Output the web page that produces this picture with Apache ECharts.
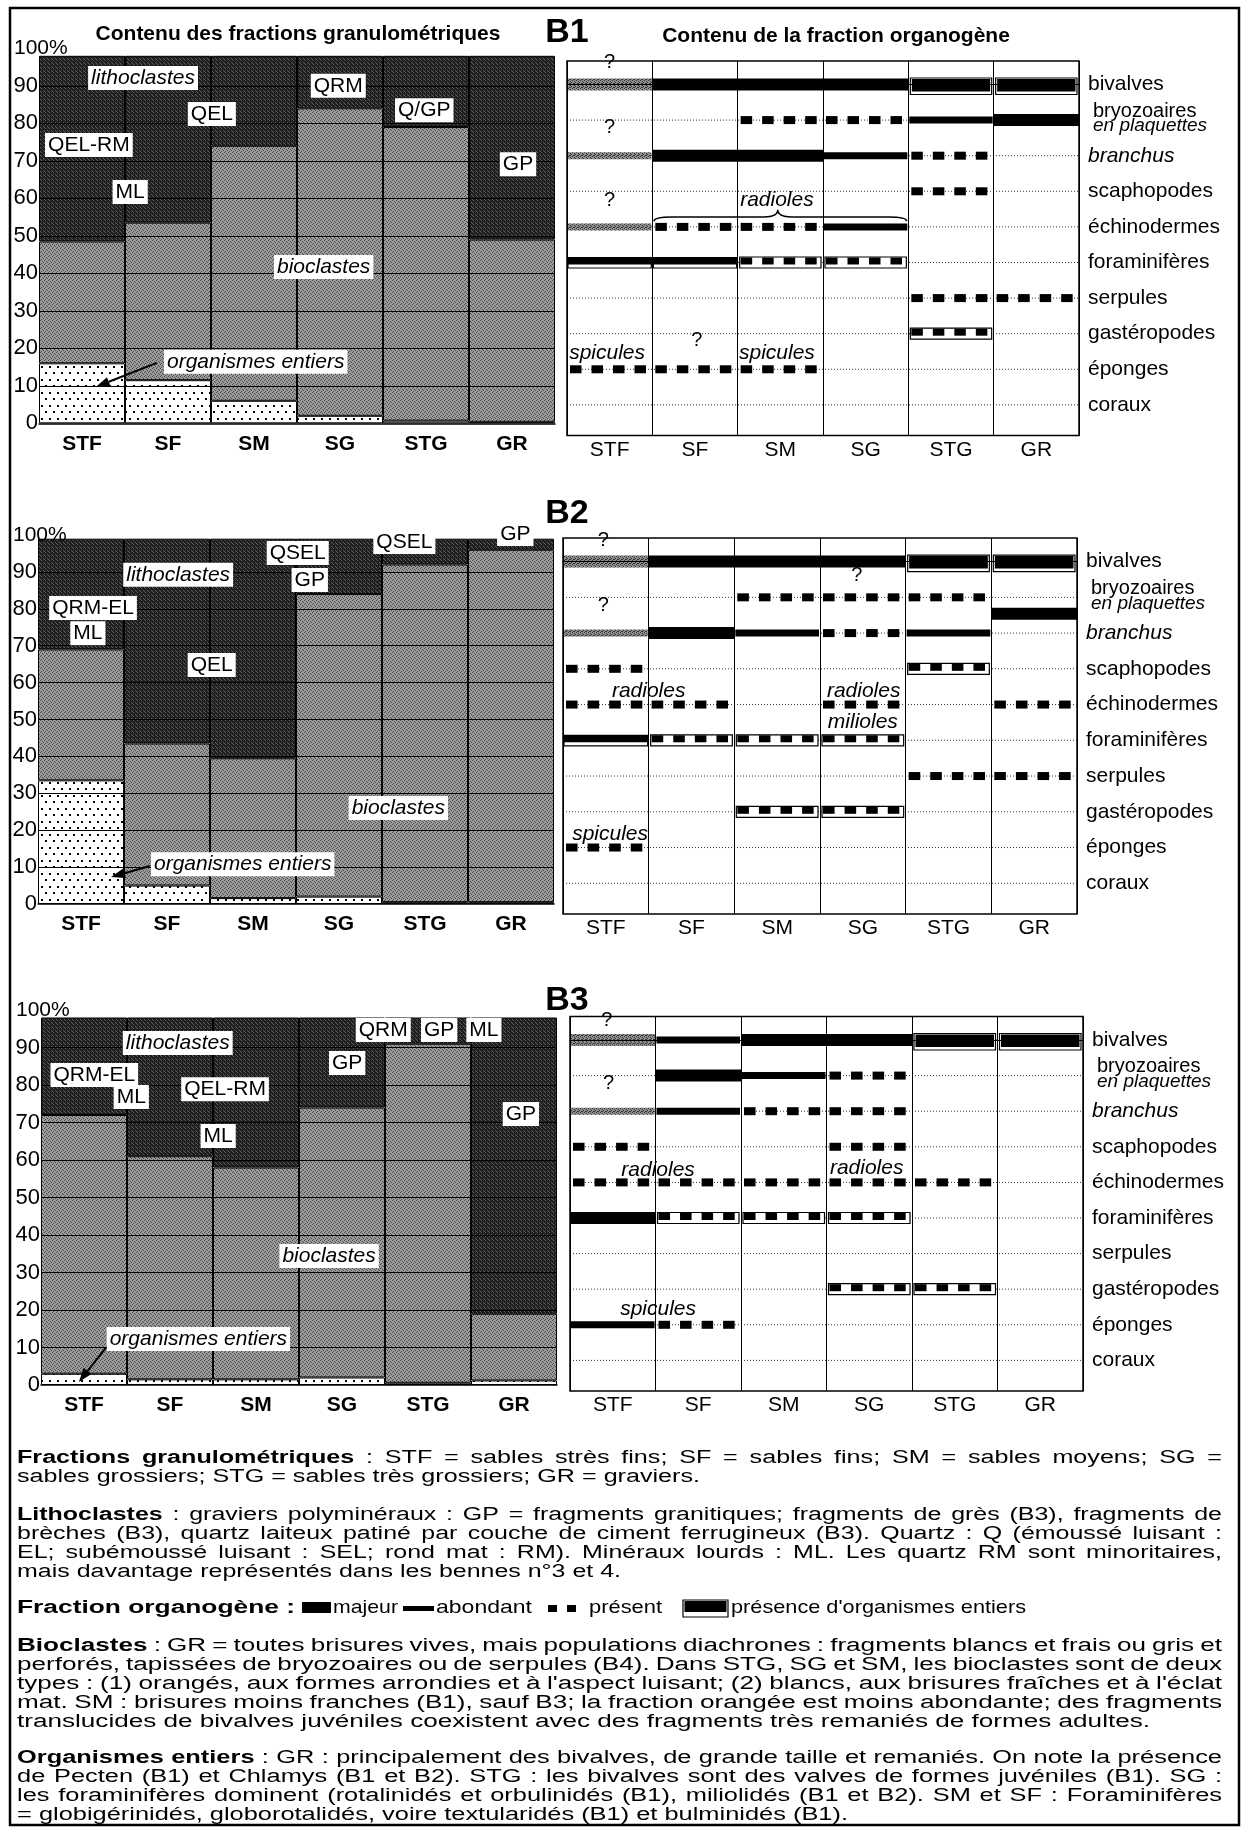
<!DOCTYPE html>
<html>
<head>
<meta charset="utf-8">
<title>Contenu des fractions granulométriques et de la fraction organogène</title>
<script src="https://cdn.jsdelivr.net/npm/echarts@6.0.0/dist/echarts.min.js"></script>
<style>
html,body{margin:0;padding:0;background:#fff;}
#chart{width:1248px;height:1828px;}
</style>
</head>
<body>
<div id="chart"></div>
<script>
// ======================= DATA =======================
const categories = ['STF', 'SF', 'SM', 'SG', 'STG', 'GR'];
const percentTicks = [0, 10, 20, 30, 40, 50, 60, 70, 80, 90];
const organoRows = ['bivalves', 'bryozoaires', 'branchus', 'scaphopodes', 'échinodermes',
  'foraminifères', 'serpules', 'gastéropodes', 'éponges', 'coraux'];

// Contenu des fractions granulométriques (% par classe)
const b1Organismes   = [16, 11.5, 6, 2, 0.7, 0.4];
const b1Bioclastes   = [32.5, 42, 68, 82, 78.3, 48.6];
const b1Lithoclastes = [49.5, 44.5, 24, 14, 19, 49];

const b2Organismes   = [33.5, 5, 1.6, 2, 0.5, 0.5];
const b2Bioclastes   = [35.5, 38.5, 37.9, 82, 91.5, 95.5];
const b2Lithoclastes = [30, 55.5, 59.5, 15, 7, 3];

const b3Organismes   = [3, 1.5, 1.5, 2, 0.6, 1.2];
const b3Bioclastes   = [69, 59.5, 56.5, 72, 90.4, 17.8];
const b3Lithoclastes = [26, 37, 40, 24, 7, 79];

// Contenu de la fraction organogène : [fraction, groupe, niveau]
const b1Organo = [
  ['STF','bivalves','incertain'], ['SF','bivalves','majeur'], ['SM','bivalves','majeur'], ['SG','bivalves','majeur'], ['STG','bivalves','entiers-majeur'], ['GR','bivalves','entiers-majeur'],
  ['SM','bryozoaires','présent'], ['SG','bryozoaires','présent'], ['STG','bryozoaires','abondant'], ['GR','bryozoaires','majeur'],
  ['STF','branchus','incertain-faible'], ['SF','branchus','majeur'], ['SM','branchus','majeur'], ['SG','branchus','abondant'], ['STG','branchus','présent'],
  ['STG','scaphopodes','présent'],
  ['STF','échinodermes','incertain-faible'], ['SF','échinodermes','présent'], ['SM','échinodermes','présent'], ['SG','échinodermes','abondant'],
  ['STF','foraminifères','entiers-abondant'], ['SF','foraminifères','entiers-abondant'], ['SM','foraminifères','entiers-présent'], ['SG','foraminifères','entiers-présent'],
  ['STG','serpules','présent'], ['GR','serpules','présent'],
  ['STG','gastéropodes','entiers-présent'],
  ['STF','éponges','présent'], ['SF','éponges','présent'], ['SM','éponges','présent']
];
const b2Organo = [
  ['STF','bivalves','incertain'], ['SF','bivalves','majeur'], ['SM','bivalves','majeur'], ['SG','bivalves','majeur'], ['STG','bivalves','entiers-majeur'], ['GR','bivalves','entiers-majeur'],
  ['SM','bryozoaires','présent'], ['SG','bryozoaires','présent'], ['STG','bryozoaires','présent'], ['GR','bryozoaires','majeur'],
  ['STF','branchus','incertain-faible'], ['SF','branchus','majeur'], ['SM','branchus','abondant'], ['SG','branchus','présent'], ['STG','branchus','abondant'],
  ['STF','scaphopodes','présent'], ['STG','scaphopodes','entiers-présent'],
  ['STF','échinodermes','présent'], ['SF','échinodermes','présent'], ['SG','échinodermes','présent'], ['GR','échinodermes','présent'],
  ['STF','foraminifères','entiers-abondant'], ['SF','foraminifères','entiers-présent'], ['SM','foraminifères','entiers-présent'], ['SG','foraminifères','entiers-présent'],
  ['STG','serpules','présent'], ['GR','serpules','présent'],
  ['SM','gastéropodes','entiers-présent'], ['SG','gastéropodes','entiers-présent'],
  ['STF','éponges','présent']
];
const b3Organo = [
  ['STF','bivalves','incertain'], ['SF','bivalves','abondant'], ['SM','bivalves','majeur'], ['SG','bivalves','majeur'], ['STG','bivalves','entiers-majeur'], ['GR','bivalves','entiers-majeur'],
  ['SF','bryozoaires','majeur'], ['SM','bryozoaires','abondant'], ['SG','bryozoaires','présent'],
  ['STF','branchus','incertain-faible'], ['SF','branchus','abondant'], ['SM','branchus','présent'], ['SG','branchus','présent'],
  ['STF','scaphopodes','présent'], ['SG','scaphopodes','présent'],
  ['STF','échinodermes','présent'], ['SF','échinodermes','présent'], ['SM','échinodermes','présent'], ['SG','échinodermes','présent'], ['STG','échinodermes','présent'],
  ['STF','foraminifères','majeur'], ['SF','foraminifères','entiers-présent'], ['SM','foraminifères','entiers-présent'], ['SG','foraminifères','entiers-présent'],
  ['SG','gastéropodes','entiers-présent'], ['STG','gastéropodes','entiers-présent'],
  ['STF','éponges','abondant'], ['SF','éponges','présent']
];

// Texte de légende
const captionParagraphs = [
  { bold: 'Fractions granulométriques', lines: [
    ' :  STF = sables strès fins; SF = sables fins; SM = sables moyens; SG =',
    'sables grossiers; STG = sables très grossiers; GR = graviers.'] },
  { bold: 'Lithoclastes', lines: [
    ' : graviers polyminéraux : GP = fragments granitiques;  fragments de grès (B3), fragments de',
    'brèches (B3), quartz laiteux patiné par couche de ciment ferrugineux (B3). Quartz : Q (émoussé luisant :',
    'EL; subémoussé luisant : SEL; rond mat : RM). Minéraux lourds : ML. Les quartz RM sont minoritaires,',
    'mais davantage représentés dans les bennes n°3 et 4.'] },
  { bold: 'Bioclastes', lines: [
    ' : GR = toutes brisures vives, mais populations diachrones : fragments blancs et frais ou gris et',
    'perforés, tapissées de bryozoaires ou de serpules (B4). Dans STG, SG et SM, les bioclastes sont de deux',
    "types : (1) orangés, aux formes arrondies et à l'aspect luisant; (2) blancs, aux brisures fraîches et à l'éclat",
    'mat. SM : brisures moins franches (B1), sauf B3; la fraction orangée est moins abondante; des fragments',
    'translucides de bivalves juvéniles coexistent avec des fragments très remaniés de formes adultes.'] },
  { bold: 'Organismes entiers', lines: [
    ' : GR : principalement des bivalves, de grande taille et remaniés. On note la présence',
    'de Pecten (B1) et Chlamys (B1 et B2). STG : les bivalves sont des valves de formes juvéniles (B1). SG :',
    'les foraminifères dominent (rotalinidés et orbulinidés (B1), miliolidés (B1 et B2). SM et SF : Foraminifères',
    '= globigérinidés, globorotalidés, voire textularidés (B1) et bulminidés (B1).'] }
];

// ======================= STYLE / LAYOUT =======================
const FONT = '"Liberation Sans", Arial, Helvetica, sans-serif';

function makePattern(w, h, base, dots, dotColor) {
  const c = document.createElement('canvas');
  c.width = w; c.height = h;
  const g = c.getContext('2d');
  g.fillStyle = base; g.fillRect(0, 0, w, h);
  g.fillStyle = dotColor;
  dots.forEach(d => g.fillRect(d[0], d[1], d[2] || 1, d[2] || 1));
  return { image: c, repeat: 'repeat' };
}
const bioFill   = makePattern(4, 4, '#9c9c9c', [[0,0],[2,1],[1,3],[3,2]], '#4a4a4a');
const lithoFill = makePattern(4, 4, '#202020', [[1,0],[3,2],[0,3]], '#5e5e5e');
const orgFill   = makePattern(16, 13, '#ffffff', [[1,2,2],[9,2,2],[5,8,2],[13,8,2]], '#000000');
const grayMark  = makePattern(4, 4, '#8e8e8e', [[0,0],[2,1],[1,3],[3,2],[2,3]], '#333333');

const leftNotes = {
  B1: [
    {t:'lithoclastes', x:1.21, v:92.1, it:true}, {t:'QRM', x:3.48, v:90}, {t:'QEL', x:2.01, v:82.5},
    {t:'Q/GP', x:4.48, v:83.5}, {t:'QEL-RM', x:0.58, v:74.2}, {t:'GP', x:5.57, v:69.1},
    {t:'ML', x:1.06, v:61.7}, {t:'bioclastes', x:3.31, v:41.7, it:true},
    {t:'organismes entiers', x:2.52, v:16.4, it:true},
    {kind:'arrow', from:[1.37,16.1], to:[0.66,9.7]}
  ],
  B2: [
    {t:'lithoclastes', x:1.63, v:89.2, it:true}, {t:'QRM-EL', x:0.64, v:80.2}, {t:'ML', x:0.58, v:73.4},
    {t:'QEL', x:2.02, v:64.8}, {t:'QSEL', x:3.02, v:95.1}, {t:'GP', x:3.16, v:87.8},
    {t:'QSEL', x:4.26, v:98.1}, {t:'GP', x:5.55, v:100.3},
    {t:'bioclastes', x:4.19, v:26, it:true}, {t:'organismes entiers', x:2.38, v:10.8, it:true},
    {kind:'arrow', from:[1.3,10.3], to:[0.85,7.3]}
  ],
  B3: [
    {t:'lithoclastes', x:1.59, v:91.2, it:true}, {t:'QRM-EL', x:0.62, v:82.7}, {t:'ML', x:1.05, v:76.8},
    {t:'QEL-RM', x:2.14, v:78.9}, {t:'ML', x:2.06, v:66.4}, {t:'GP', x:3.56, v:85.9},
    {t:'QRM', x:3.98, v:94.7}, {t:'GP', x:4.63, v:94.7}, {t:'ML', x:5.15, v:94.7},
    {t:'GP', x:5.58, v:72.3}, {t:'bioclastes', x:3.35, v:34.4, it:true},
    {t:'organismes entiers', x:1.83, v:12.3, it:true},
    {kind:'arrow', from:[0.76,10.1], to:[0.44,0.8]}
  ]
};
const rightNotes = {
  B1: [
    {t:'?', x:0.5, r:-0.63}, {t:'?', x:0.5, r:1.22}, {t:'?', x:0.5, r:3.25}, {t:'?', x:1.52, r:7.19},
    {t:'radioles', x:2.46, r:3.26, it:true},
    {t:'spicules', x:0.47, r:7.55, it:true}, {t:'spicules', x:2.46, r:7.55, it:true},
    {kind:'brace', x0:1.02, x1:3.98, r:3.84, rMid:3.72, rTip:3.52, xTip:2.47}
  ],
  B2: [
    {t:'?', x:0.47, r:-0.58}, {t:'?', x:0.47, r:1.22}, {t:'?', x:3.43, r:0.4},
    {t:'radioles', x:1.0, r:3.62, it:true}, {t:'radioles', x:3.51, r:3.62, it:true},
    {t:'milioles', x:3.5, r:4.5, it:true}, {t:'spicules', x:0.55, r:7.62, it:true}
  ],
  B3: [
    {t:'?', x:0.43, r:-0.56}, {t:'?', x:0.45, r:1.21},
    {t:'radioles', x:1.03, r:3.65, it:true}, {t:'radioles', x:3.47, r:3.59, it:true},
    {t:'spicules', x:1.03, r:7.55, it:true}
  ]
};

const PANELS = [
  { tag:'B1', tagPos:[567,33], values:[b1Organismes,b1Bioclastes,b1Lithoclastes], organo:b1Organo, shifts:{},
    leftGrid:{left:39, top:48.3, width:516, height:375}, rightGrid:{left:567, top:61, width:512, height:374.5} },
  { tag:'B2', tagPos:[567,514], values:[b2Organismes,b2Bioclastes,b2Lithoclastes], organo:b2Organo, shifts:{'GR|bryozoaires':0.46},
    leftGrid:{left:38, top:535, width:516, height:369}, rightGrid:{left:563, top:538, width:514, height:376} },
  { tag:'B3', tagPos:[567,1001], values:[b3Organismes,b3Bioclastes,b3Lithoclastes], organo:b3Organo, shifts:{},
    leftGrid:{left:41, top:1010, width:516, height:375}, rightGrid:{left:570, top:1016.5, width:513, height:374.5} }
];

// ======================= HELPERS =======================
const mctx = document.createElement('canvas').getContext('2d');
function textWidth(t, size, bold, italic) {
  mctx.font = (italic ? 'italic ' : 'normal ') + (bold ? 'bold ' : 'normal ') + size + 'px ' + FONT;
  return mctx.measureText(t).width;
}
function txt(text, x, y, o) {
  o = o || {};
  const st = {
    text: text, fontFamily: FONT, fontSize: o.size || 18, fontWeight: o.bold ? 'bold' : 'normal',
    fontStyle: o.italic ? 'italic' : 'normal', fill: '#000',
    align: o.align || 'left', verticalAlign: 'middle', textAlign: o.align || 'left', textVerticalAlign: 'middle'
  };
  const el = { type: 'text', x: x, y: y, style: st, silent: true };
  if (o.scaleX) el.scaleX = o.scaleX;
  return el;
}
function fitText(text, x, y, width, o) {
  o = o || {};
  const w = textWidth(text, o.size || 18, o.bold, o.italic);
  return txt(text, x, y, Object.assign({}, o, { scaleX: width / w }));
}

function leftAnnotSeries(gi, items) {
  return {
    type: 'custom', xAxisIndex: gi, yAxisIndex: gi, z: 10, silent: true, clip: false,
    data: items.map(it => [0, it.kind === 'arrow' ? it.from[1] : it.v]),
    renderItem: function (params, api) {
      const it = items[params.dataIndex];
      const bw = api.size([1, 0])[0];
      const left = api.coord([0, 0])[0] - bw / 2;
      const px = (f, v) => [left + f * bw, api.coord([0, v])[1]];
      if (it.kind === 'arrow') {
        const a = px(it.from[0], it.from[1]), b = px(it.to[0], it.to[1]);
        const ang = Math.atan2(b[1] - a[1], b[0] - a[0]);
        const L = 14, W = 5;
        const bx = b[0] - L * Math.cos(ang), by = b[1] - L * Math.sin(ang);
        const nx = -Math.sin(ang) * W, ny = Math.cos(ang) * W;
        return { type: 'group', children: [
          { type: 'line', shape: { x1: a[0], y1: a[1], x2: bx, y2: by }, style: { stroke: '#000', lineWidth: 2 } },
          { type: 'polygon', shape: { points: [[b[0], b[1]], [bx + nx, by + ny], [bx - nx, by - ny]] }, style: { fill: '#000' } }
        ] };
      }
      if (it.kind === 'corner') {
        const p = [left + it.dx, api.coord([0, it.v])[1]];
        return txt(it.t, p[0], p[1], { size: 21 });
      }
      const p = px(it.x, it.v);
      const el = txt(it.t, p[0], p[1], { size: 21, italic: it.it, align: 'center' });
      el.style.backgroundColor = '#fff';
      el.style.padding = [2, 3, 1, 3];
      return el;
    }
  };
}

function rowsSeries(gi) {
  return {
    type: 'custom', xAxisIndex: gi, yAxisIndex: gi, z: 2, silent: true, clip: false,
    data: organoRows.map((r, i) => [0, i]),
    renderItem: function (params, api) {
      const i = params.dataIndex;
      const cs = params.coordSys;
      const y = api.coord([0, api.value(1)])[1];
      const name = organoRows[i];
      const lx = cs.x + cs.width + 9;
      const kids = [{ type: 'line', shape: { x1: cs.x, y1: y, x2: cs.x + cs.width, y2: y },
        style: { stroke: '#333', lineWidth: 1, lineDash: [1, 2] } }];
      if (name === 'bryozoaires') {
        kids.push(txt('bryozoaires', lx + 5, y - 9, { size: 20 }));
        kids.push(txt('en plaquettes', lx + 5, y + 6, { size: 19, italic: true }));
      } else {
        kids.push(txt(name, lx, y, { size: 21, italic: name === 'branchus' }));
      }
      return { type: 'group', children: kids };
    }
  };
}

function dashes(x0, bw, yTop, h) {
  const per = bw * 0.252, w = bw * 0.135, off = bw * 0.035;
  return [0, 1, 2, 3].map(k => ({ type: 'rect', shape: { x: x0 + off + k * per, y: yTop, width: w, height: h }, style: { fill: '#000' } }));
}

function marksSeries(gi, marks, shifts) {
  return {
    type: 'custom', xAxisIndex: gi, yAxisIndex: gi, z: 3, silent: true, clip: false,
    data: marks.map(m => [categories.indexOf(m[0]), organoRows.indexOf(m[1])]),
    renderItem: function (params, api) {
      const m = marks[params.dataIndex];
      const shift = shifts[m[0] + '|' + m[1]] || 0;
      const c = api.coord([api.value(0), api.value(1) + shift]);
      const bw = api.size([1, 0])[0];
      const x0 = c[0] - bw / 2, y = c[1];
      const kids = [];
      const rect = (x, yy, w, h, style) => kids.push({ type: 'rect', shape: { x: x, y: yy, width: w, height: h }, style: style });
      const black = { fill: '#000' };
      const box = { fill: '#fff', stroke: '#000', lineWidth: 1.2 };
      switch (m[2]) {
        case 'majeur': rect(x0, y - 6, bw, 12, black); break;
        case 'abondant': rect(x0 + 1, y - 3.5, bw - 2, 7, black); break;
        case 'présent': dashes(x0, bw, y - 4, 8).forEach(d => kids.push(d)); break;
        case 'incertain': rect(x0, y - 6, bw, 12, { fill: grayMark }); break;
        case 'incertain-faible': rect(x0 + 1, y - 3.5, bw - 2, 7, { fill: grayMark }); break;
        case 'entiers-majeur':
          rect(x0 + 2, y - 6.5, bw - 4, 16.5, box); rect(x0 + 3.5, y - 5.5, bw - 7, 12.5, black); break;
        case 'entiers-abondant':
          rect(x0 + 1, y - 5, bw - 2, 10.5, box); rect(x0 + 1, y - 5, bw - 2, 7, black); break;
        case 'entiers-présent':
          rect(x0 + 2, y - 5.5, bw - 4, 11, box); dashes(x0, bw, y - 5, 7).forEach(d => kids.push(d)); break;
      }
      return { type: 'group', children: kids };
    }
  };
}

function rightNotesSeries(gi, items) {
  return {
    type: 'custom', xAxisIndex: gi, yAxisIndex: gi, z: 4, silent: true, clip: false,
    data: items.map(it => [0, it.r]),
    renderItem: function (params, api) {
      const it = items[params.dataIndex];
      const bw = api.size([1, 0])[0];
      const left = api.coord([0, 0])[0] - bw / 2;
      const X = f => left + f * bw;
      const Y = r => api.coord([0, r])[1];
      if (it.kind === 'brace') {
        const xa = X(it.x0), xb = X(it.x1), xt = X(it.xTip);
        const ye = Y(it.r), ym = Y(it.rMid), yt = Y(it.rTip);
        const d = 'M' + xa + ' ' + ye + ' Q' + xa + ' ' + ym + ' ' + (xa + 18) + ' ' + ym +
          ' L' + (xt - 14) + ' ' + ym + ' Q' + xt + ' ' + ym + ' ' + xt + ' ' + yt +
          ' Q' + xt + ' ' + ym + ' ' + (xt + 14) + ' ' + ym +
          ' L' + (xb - 18) + ' ' + ym + ' Q' + xb + ' ' + ym + ' ' + xb + ' ' + ye;
        return { type: 'path', shape: { pathData: d }, style: { fill: 'none', stroke: '#000', lineWidth: 1.5 } };
      }
      return txt(it.t, X(it.x), Y(it.r), { size: it.t === '?' ? 20 : 21, italic: it.it, align: 'center' });
    }
  };
}

// ======================= OPTION =======================
const option = {
  animation: false,
  backgroundColor: '#fff',
  textStyle: { fontFamily: FONT, color: '#000' },
  grid: [], xAxis: [], yAxis: [], series: [],
  graphic: { elements: [] }
};

PANELS.forEach((P, p) => {
  const gl = 2 * p, gr = 2 * p + 1;
  option.grid.push(Object.assign({ outerBoundsMode: 'none', containLabel: false, show: false }, P.leftGrid));
  option.grid.push(Object.assign({ outerBoundsMode: 'none', containLabel: false, show: true,
    borderColor: '#000', borderWidth: 1.5, backgroundColor: 'rgba(0,0,0,0)' }, P.rightGrid));

  option.xAxis.push({ gridIndex: gl, type: 'category', data: categories, z: 4,
    axisLine: { show: true, lineStyle: { color: '#000', width: 1.5 } }, axisTick: { show: false },
    axisLabel: { interval: 0, color: '#000', fontSize: 21, fontWeight: 'bold', margin: 10, fontFamily: FONT },
    splitLine: { show: false } });
  option.xAxis.push({ gridIndex: gr, type: 'category', data: categories, boundaryGap: true, z: 4,
    axisLine: { show: true, lineStyle: { color: '#000', width: 1.2 } }, axisTick: { show: false },
    axisLabel: { interval: 0, color: '#000', fontSize: 21, margin: 4, fontFamily: FONT },
    splitLine: { show: true, interval: 0, lineStyle: { color: '#000', width: 1 } } });

  option.yAxis.push({ gridIndex: gl, type: 'value', min: 0, max: 100, interval: 10, z: 4,
    axisLine: { show: false }, axisTick: { show: false },
    axisLabel: { color: '#000', fontSize: 22, margin: 1, fontFamily: FONT, showMinLabel: true,
      formatter: v => (percentTicks.indexOf(v) >= 0 ? String(v) : '') },
    splitLine: { show: true, showMinLine: false, showMaxLine: false, lineStyle: { color: '#000', width: 1.2 } } });
  option.yAxis.push({ gridIndex: gr, type: 'value', inverse: true, min: -0.66, max: 9.86, show: false });

  const names = ['organismes entiers', 'bioclastes', 'lithoclastes'];
  const fills = [orgFill, bioFill, lithoFill];
  names.forEach((nm, k) => option.series.push({
    type: 'bar', name: nm, xAxisIndex: gl, yAxisIndex: gl, stack: 'frac' + p,
    data: P.values[k], barCategoryGap: '0%', barGap: '0%', z: 2,
    itemStyle: { color: fills[k], borderColor: '#000', borderWidth: 1 },
    emphasis: { disabled: true }
  }));
  option.series.push(leftAnnotSeries(gl, leftNotes[P.tag].concat([{ kind: 'corner', t: '100%', dx: -25, v: 100 }])));
  option.series.push(rowsSeries(gr));
  option.series.push(marksSeries(gr, P.organo, P.shifts));
  option.series.push(rightNotesSeries(gr, rightNotes[P.tag]));

  option.graphic.elements.push(txt(P.tag, P.tagPos[0], P.tagPos[1], { size: 34, bold: true, align: 'center' }));
});

const G = option.graphic.elements;
// cadre
G.push({ type: 'rect', shape: { x: 10, y: 8, width: 1229, height: 1817 }, style: { fill: 'none', stroke: '#000', lineWidth: 2.5 }, silent: true });
// titres
G.push(txt('Contenu des fractions granulométriques', 298, 34, { size: 21, bold: true, align: 'center' }));
G.push(txt('Contenu de la fraction organogène', 836, 36, { size: 21, bold: true, align: 'center' }));

// paragraphes justifiés
const paraLayout = [
  { y: 1458, lastEnd: 700 },
  { y: 1515, lastEnd: 621 },
  { y: 1646, lastEnd: 1150 },
  { y: 1758, lastEnd: 848 }
];
const PX = 17, PRIGHT = 1222, PSTEP = 19, PSIZE = 18;
captionParagraphs.forEach((par, pi) => {
  const L = paraLayout[pi];
  const lines = par.lines.map((ln, i) => {
    const toks = [];
    if (i === 0) par.bold.split(' ').forEach(w => toks.push({ w: w, b: true }));
    ln.split(' ').filter(Boolean).forEach(w => toks.push({ w: w, b: false }));
    return toks;
  });
  const space = textWidth(' ', PSIZE, false);
  const sumW = toks => toks.reduce((s, t) => s + textWidth(t.w, PSIZE, t.b), 0);
  const last = lines[lines.length - 1];
  const sLast = (L.lastEnd - PX) / (sumW(last) + space * (last.length - 1));
  lines.forEach((toks, i) => {
    const y = L.y + i * PSTEP;
    const isLast = i === lines.length - 1;
    const W = sumW(toks);
    let s = sLast, gap = space * sLast;
    if (!isLast) {
      gap = (PRIGHT - PX - s * W) / (toks.length - 1);
      if (gap < space * s * 0.8) { gap = space * s * 0.8; s = (PRIGHT - PX - gap * (toks.length - 1)) / W; }
    }
    let x = PX;
    toks.forEach(t => {
      G.push(txt(t.w, x, y, { size: PSIZE, bold: t.b, scaleX: s }));
      x += textWidth(t.w, PSIZE, t.b) * s + gap;
    });
  });
});

// légende de la fraction organogène
const LY = 1608;
G.push(fitText('Fraction organogène :', 17, LY, 278, { size: 18, bold: true }));
G.push({ type: 'rect', shape: { x: 302, y: LY - 6, width: 29, height: 11 }, style: { fill: '#000' }, silent: true });
G.push(fitText('majeur', 333, LY, 65, { size: 19 }));
G.push({ type: 'rect', shape: { x: 403, y: LY - 2, width: 31, height: 5 }, style: { fill: '#000' }, silent: true });
G.push(fitText('abondant', 436, LY, 96, { size: 19 }));
G.push({ type: 'rect', shape: { x: 548, y: LY - 3, width: 9, height: 7 }, style: { fill: '#000' }, silent: true });
G.push({ type: 'rect', shape: { x: 567, y: LY - 3, width: 9, height: 7 }, style: { fill: '#000' }, silent: true });
G.push(fitText('présent', 589, LY, 73, { size: 19 }));
G.push({ type: 'rect', shape: { x: 683, y: LY - 8, width: 45, height: 17 }, style: { fill: '#fff', stroke: '#000', lineWidth: 1.2 }, silent: true });
G.push({ type: 'rect', shape: { x: 684.5, y: LY - 7, width: 42, height: 11 }, style: { fill: '#000' }, silent: true });
G.push(fitText("présence d'organismes entiers", 731, LY, 295, { size: 19 }));

const chart = echarts.init(document.getElementById('chart'), null, { renderer: 'canvas', width: 1248, height: 1828 });
chart.setOption(option);
</script>
</body>
</html>
